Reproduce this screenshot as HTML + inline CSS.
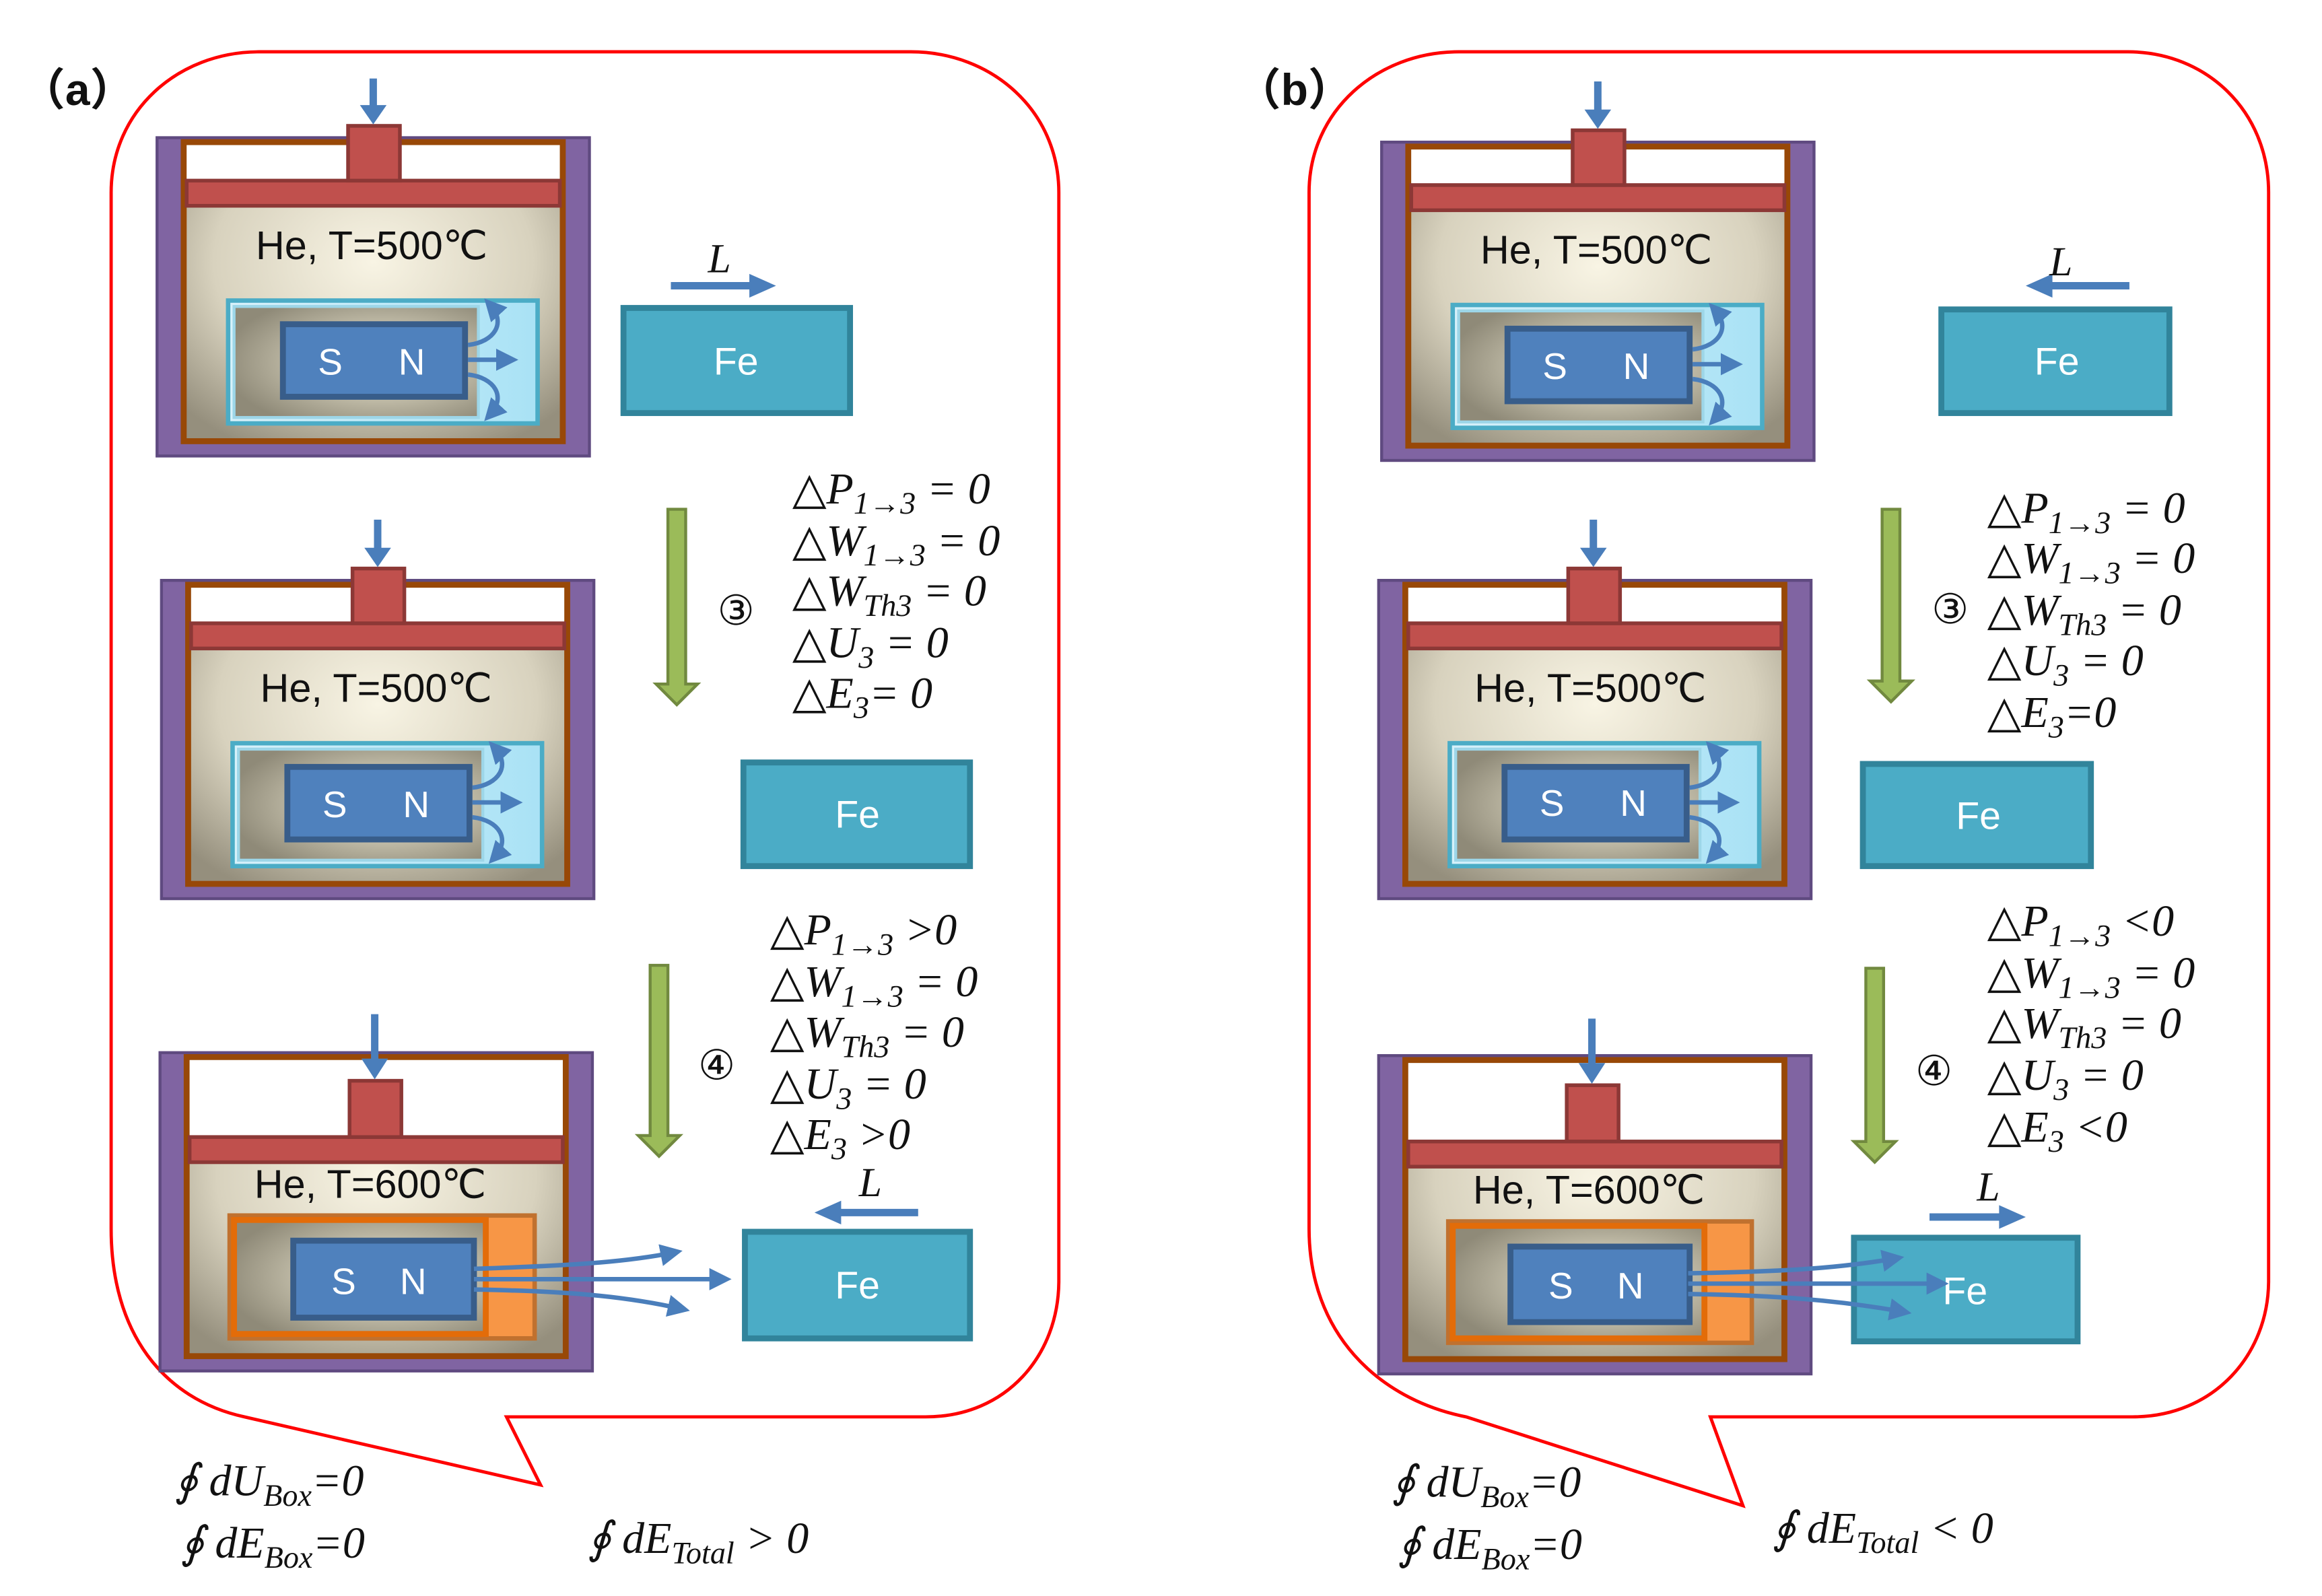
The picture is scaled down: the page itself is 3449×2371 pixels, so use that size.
<!DOCTYPE html>
<html><head><meta charset="utf-8">
<style>
html,body{margin:0;padding:0;background:#fff;}
svg{display:block;}
.he{font-family:"Liberation Sans","DejaVu Sans",sans-serif;font-size:27px;fill:#111;}
.sn{font-family:"Liberation Sans",sans-serif;font-size:25px;fill:#fff;}
.fe{font-family:"Liberation Sans",sans-serif;font-size:26px;fill:#fff;}
.eq{font-family:"Liberation Serif","DejaVu Serif",serif;font-style:italic;font-size:30px;fill:#111;}
.sub{font-size:21px;}
.lab{font-family:"Liberation Sans","Noto Sans CJK SC",sans-serif;font-size:30px;font-weight:bold;fill:#111;}
.L{font-family:"Liberation Serif",serif;font-style:italic;font-size:28px;fill:#111;}
.circ{font-family:"Liberation Serif","DejaVu Serif",serif;font-size:28px;fill:#111;}
</style></head>
<body>
<svg width="3449" height="2371" viewBox="0 0 1568 1078" xmlns="http://www.w3.org/2000/svg">
<defs>
<radialGradient id="gas" cx="50%" cy="40%" r="70%">
<stop offset="0" stop-color="#f8f4e4"/><stop offset="0.6" stop-color="#d8d2be"/><stop offset="1" stop-color="#958f7d"/>
</radialGradient>
<radialGradient id="inn" cx="60%" cy="50%" r="65%">
<stop offset="0" stop-color="#f5f0da"/><stop offset="1" stop-color="#8f8a78"/>
</radialGradient>
<linearGradient id="lb" x1="0" x2="1"><stop offset="0" stop-color="#d7f1fa"/><stop offset="1" stop-color="#a9e2f5"/></linearGradient>
<marker id="ah" markerWidth="5" markerHeight="5" refX="3" refY="2.5" orient="auto" markerUnits="strokeWidth"><path d="M0,0 L5,2.5 L0,5 z" fill="#4a7ebb"/></marker>
<g id="shell">
<rect x="0" y="0" width="292" height="215" fill="#8064a2" stroke="#5f4a80" stroke-width="2"/>
<rect x="18" y="3" width="256" height="202" fill="url(#gas)" stroke="#984807" stroke-width="4"/>
</g>
<g id="coldHouse">
<rect x="48" y="110" width="209" height="83" fill="url(#lb)" stroke="#4bacc6" stroke-width="3"/>
<rect x="52" y="114" width="165" height="75" fill="url(#inn)" stroke="#9dd6e8" stroke-width="2"/>
<rect x="85" y="126" width="123" height="49" fill="#4f81bd" stroke="#385d8a" stroke-width="4"/>
<path d="M210,140 C228,138 236,125 225,113" fill="none" stroke="#4a7ebb" stroke-width="3" marker-end="url(#ah)"/>
<path d="M210,150 L238,150" fill="none" stroke="#4a7ebb" stroke-width="3" marker-end="url(#ah)"/>
<path d="M210,160 C228,162 236,175 225,187" fill="none" stroke="#4a7ebb" stroke-width="3" marker-end="url(#ah)"/>
</g>
</defs>

<!-- ============ PANEL A ============ -->
<text x="14" y="71" class="lab">（a）</text>
<path d="M165,957 C110,945 75,900 75,830 L75,130 C75,75 120,35 175,35 L615,35 C670,35 715,75 715,130 L715,865 C715,915 680,957 625,957 L342,957 L365,1003 Z" fill="none" stroke="#ff0000" stroke-width="2.2"/>

<g transform="translate(106,93)">
<use href="#shell"/>
<rect x="20" y="5" width="252" height="25" fill="#fff"/>
<rect x="20" y="29" width="252" height="17" fill="#c0504d" stroke="#8c3836" stroke-width="2.5"/>
<rect x="129" y="-8" width="35" height="37" fill="#c0504d" stroke="#8c3836" stroke-width="2.5"/>
<line x1="146" y1="-40" x2="146" y2="-20" stroke="#4a7ebb" stroke-width="5"/><path d="M137,-22 L155,-22 L146,-9 z" fill="#4a7ebb"/>
<use href="#coldHouse"/>
<text x="145" y="82" class="he" text-anchor="middle">He, T=500℃</text>
<text x="117" y="160" class="sn" text-anchor="middle">S</text><text x="172" y="160" class="sn" text-anchor="middle">N</text>
</g>
<rect x="421" y="208" width="153" height="71" fill="#4bacc6" stroke="#31849b" stroke-width="4"/>
<text x="497" y="253" class="fe" text-anchor="middle">Fe</text>
<line x1="453" y1="193" x2="508" y2="193" stroke="#4a7ebb" stroke-width="5"/><path d="M506,185 L524,193 L506,201 z" fill="#4a7ebb"/>
<text x="478" y="184" class="L">L</text>

<g transform="translate(109,392)">
<use href="#shell"/>
<rect x="20" y="5" width="252" height="25" fill="#fff"/>
<rect x="20" y="29" width="252" height="17" fill="#c0504d" stroke="#8c3836" stroke-width="2.5"/>
<rect x="129" y="-8" width="35" height="37" fill="#c0504d" stroke="#8c3836" stroke-width="2.5"/>
<line x1="146" y1="-41" x2="146" y2="-20" stroke="#4a7ebb" stroke-width="5"/><path d="M137,-22 L155,-22 L146,-9 z" fill="#4a7ebb"/>
<use href="#coldHouse"/>
<text x="145" y="82" class="he" text-anchor="middle">He, T=500℃</text>
<text x="117" y="160" class="sn" text-anchor="middle">S</text><text x="172" y="160" class="sn" text-anchor="middle">N</text>
</g>
<rect x="502" y="515" width="153" height="70" fill="#4bacc6" stroke="#31849b" stroke-width="4"/>
<text x="579" y="559" class="fe" text-anchor="middle">Fe</text>

<path d="M451,344 L463,344 L463,462 L471,462 L457,476 L443,462 L451,462 Z" fill="#9bbb59" stroke="#71893f" stroke-width="2"/>
<text x="497" y="422" class="circ" text-anchor="middle">③</text>
<text class="eq" x="535" y="340">△P<tspan class="sub" dy="7">1→3</tspan><tspan dy="-7"> = 0</tspan></text>
<text class="eq" x="535" y="375">△W<tspan class="sub" dy="7">1→3</tspan><tspan dy="-7"> = 0</tspan></text>
<text class="eq" x="535" y="409">△W<tspan class="sub" dy="7">Th3</tspan><tspan dy="-7"> = 0</tspan></text>
<text class="eq" x="535" y="444">△U<tspan class="sub" dy="7">3</tspan><tspan dy="-7"> = 0</tspan></text>
<text class="eq" x="535" y="478">△E<tspan class="sub" dy="7">3</tspan><tspan dy="-7">= 0</tspan></text>

<g transform="translate(108,711)">
<use href="#shell"/>
<rect x="20" y="5" width="252" height="52" fill="#fff"/>
<rect x="20" y="57" width="252" height="17" fill="#c0504d" stroke="#8c3836" stroke-width="2.5"/>
<rect x="128" y="19" width="35" height="38" fill="#c0504d" stroke="#8c3836" stroke-width="2.5"/>
<line x1="145" y1="-26" x2="145" y2="6" stroke="#4a7ebb" stroke-width="5"/><path d="M136,4 L154,4 L145,18 z" fill="#4a7ebb"/>
<text x="142" y="98" class="he" text-anchor="middle">He, T=600℃</text>
<rect x="47" y="110" width="206" height="83" fill="#f79646" stroke="#c0712f" stroke-width="3"/>
<rect x="50" y="113" width="170" height="77" fill="url(#inn)" stroke="#e36c09" stroke-width="4"/>
<rect x="90" y="127" width="122" height="52" fill="#4f81bd" stroke="#385d8a" stroke-width="4"/>
<text x="124" y="163" class="sn" text-anchor="middle">S</text><text x="171" y="163" class="sn" text-anchor="middle">N</text>
</g>
<path d="M320,857 C380,855 420,853 455,846" fill="none" stroke="#4a7ebb" stroke-width="3" marker-end="url(#ah)"/>
<path d="M320,864 L488,864" fill="none" stroke="#4a7ebb" stroke-width="3" marker-end="url(#ah)"/>
<path d="M320,871 C380,872 420,875 460,884" fill="none" stroke="#4a7ebb" stroke-width="3" marker-end="url(#ah)"/>
<rect x="503" y="832" width="152" height="72" fill="#4bacc6" stroke="#31849b" stroke-width="4"/>
<text x="579" y="877" class="fe" text-anchor="middle">Fe</text>
<line x1="566" y1="819" x2="620" y2="819" stroke="#4a7ebb" stroke-width="5"/><path d="M568,811 L550,819 L568,827 z" fill="#4a7ebb"/>
<text x="580" y="808" class="L">L</text>

<path d="M439,652 L451,652 L451,767 L459,767 L445,781 L431,767 L439,767 Z" fill="#9bbb59" stroke="#71893f" stroke-width="2"/>
<text x="484" y="729" class="circ" text-anchor="middle">④</text>
<text class="eq" x="520" y="638">△P<tspan class="sub" dy="7">1→3</tspan><tspan dy="-7">  &gt;0</tspan></text>
<text class="eq" x="520" y="673">△W<tspan class="sub" dy="7">1→3</tspan><tspan dy="-7"> = 0</tspan></text>
<text class="eq" x="520" y="707">△W<tspan class="sub" dy="7">Th3</tspan><tspan dy="-7"> = 0</tspan></text>
<text class="eq" x="520" y="742">△U<tspan class="sub" dy="7">3</tspan><tspan dy="-7"> = 0</tspan></text>
<text class="eq" x="520" y="776">△E<tspan class="sub" dy="7">3</tspan><tspan dy="-7"> &gt;0</tspan></text>

<text class="eq" x="118" y="1010">∮ dU<tspan class="sub" dy="7">Box</tspan><tspan dy="-7">=0</tspan></text>
<text class="eq" x="122" y="1052">∮ dE<tspan class="sub" dy="7">Box</tspan><tspan dy="-7">=0</tspan></text>
<text class="eq" x="397" y="1049">∮ dE<tspan class="sub" dy="7">Total</tspan><tspan dy="-7"> &gt; 0</tspan></text>

<!-- ============ PANEL B ============ -->
<text x="835" y="71" class="lab">（b）</text>
<path d="M990,957 C930,945 884,900 884,830 L884,130 C884,75 930,35 985,35 L1437,35 C1490,35 1532,75 1532,130 L1532,865 C1532,915 1495,957 1440,957 L1155,957 L1177,1017 Z" fill="none" stroke="#ff0000" stroke-width="2.2"/>

<g transform="translate(933,96)">
<use href="#shell"/>
<rect x="20" y="5" width="252" height="25" fill="#fff"/>
<rect x="20" y="29" width="252" height="17" fill="#c0504d" stroke="#8c3836" stroke-width="2.5"/>
<rect x="129" y="-8" width="35" height="37" fill="#c0504d" stroke="#8c3836" stroke-width="2.5"/>
<line x1="146" y1="-41" x2="146" y2="-20" stroke="#4a7ebb" stroke-width="5"/><path d="M137,-22 L155,-22 L146,-9 z" fill="#4a7ebb"/>
<use href="#coldHouse"/>
<text x="145" y="82" class="he" text-anchor="middle">He, T=500℃</text>
<text x="117" y="160" class="sn" text-anchor="middle">S</text><text x="172" y="160" class="sn" text-anchor="middle">N</text>
</g>
<rect x="1311" y="209" width="154" height="70" fill="#4bacc6" stroke="#31849b" stroke-width="4"/>
<text x="1389" y="253" class="fe" text-anchor="middle">Fe</text>
<line x1="1384" y1="193" x2="1438" y2="193" stroke="#4a7ebb" stroke-width="5"/><path d="M1386,185 L1368,193 L1386,201 z" fill="#4a7ebb"/>
<text x="1384" y="186" class="L">L</text>

<g transform="translate(931,392)">
<use href="#shell"/>
<rect x="20" y="5" width="252" height="25" fill="#fff"/>
<rect x="20" y="29" width="252" height="17" fill="#c0504d" stroke="#8c3836" stroke-width="2.5"/>
<rect x="128" y="-8" width="35" height="37" fill="#c0504d" stroke="#8c3836" stroke-width="2.5"/>
<line x1="145" y1="-41" x2="145" y2="-20" stroke="#4a7ebb" stroke-width="5"/><path d="M136,-22 L154,-22 L145,-9 z" fill="#4a7ebb"/>
<use href="#coldHouse"/>
<text x="143" y="82" class="he" text-anchor="middle">He, T=500℃</text>
<text x="117" y="159" class="sn" text-anchor="middle">S</text><text x="172" y="159" class="sn" text-anchor="middle">N</text>
</g>
<rect x="1258" y="516" width="154" height="69" fill="#4bacc6" stroke="#31849b" stroke-width="4"/>
<text x="1336" y="560" class="fe" text-anchor="middle">Fe</text>

<path d="M1271,344 L1283,344 L1283,460 L1291,460 L1277,474 L1263,460 L1271,460 Z" fill="#9bbb59" stroke="#71893f" stroke-width="2"/>
<text x="1317" y="421" class="circ" text-anchor="middle">③</text>
<text class="eq" x="1342" y="353">△P<tspan class="sub" dy="7">1→3</tspan><tspan dy="-7"> = 0</tspan></text>
<text class="eq" x="1342" y="387">△W<tspan class="sub" dy="7">1→3</tspan><tspan dy="-7"> = 0</tspan></text>
<text class="eq" x="1342" y="422">△W<tspan class="sub" dy="7">Th3</tspan><tspan dy="-7"> = 0</tspan></text>
<text class="eq" x="1342" y="456">△U<tspan class="sub" dy="7">3</tspan><tspan dy="-7"> = 0</tspan></text>
<text class="eq" x="1342" y="491">△E<tspan class="sub" dy="7">3</tspan><tspan dy="-7">=0</tspan></text>

<g transform="translate(931,713)">
<use href="#shell"/>
<rect x="20" y="5" width="252" height="53" fill="#fff"/>
<rect x="20" y="58" width="252" height="17" fill="#c0504d" stroke="#8c3836" stroke-width="2.5"/>
<rect x="127" y="20" width="35" height="38" fill="#c0504d" stroke="#8c3836" stroke-width="2.5"/>
<line x1="144" y1="-25" x2="144" y2="7" stroke="#4a7ebb" stroke-width="5"/><path d="M135,5 L153,5 L144,19 z" fill="#4a7ebb"/>
<text x="142" y="100" class="he" text-anchor="middle">He, T=600℃</text>
<rect x="47" y="112" width="205" height="82" fill="#f79646" stroke="#c0712f" stroke-width="3"/>
<rect x="50" y="115" width="170" height="76" fill="url(#inn)" stroke="#e36c09" stroke-width="4"/>
<rect x="89" y="129" width="121" height="51" fill="#4f81bd" stroke="#385d8a" stroke-width="4"/>
<text x="123" y="164" class="sn" text-anchor="middle">S</text><text x="170" y="164" class="sn" text-anchor="middle">N</text>
</g>
<rect x="1252" y="836" width="151" height="70" fill="#4bacc6" stroke="#31849b" stroke-width="4"/>
<text x="1327" y="881" class="fe" text-anchor="middle">Fe</text>
<path d="M1140,860 C1200,859 1240,857 1280,850" fill="none" stroke="#4a7ebb" stroke-width="3" marker-end="url(#ah)"/>
<path d="M1140,867 L1310,867" fill="none" stroke="#4a7ebb" stroke-width="3" marker-end="url(#ah)"/>
<path d="M1140,874 C1200,875 1240,878 1285,886" fill="none" stroke="#4a7ebb" stroke-width="3" marker-end="url(#ah)"/>
<line x1="1303" y1="822" x2="1352" y2="822" stroke="#4a7ebb" stroke-width="5"/><path d="M1350,814 L1368,822 L1350,830 z" fill="#4a7ebb"/>
<text x="1335" y="811" class="L">L</text>

<path d="M1260,654 L1272,654 L1272,771 L1280,771 L1266,785 L1252,771 L1260,771 Z" fill="#9bbb59" stroke="#71893f" stroke-width="2"/>
<text x="1306" y="733" class="circ" text-anchor="middle">④</text>
<text class="eq" x="1342" y="632">△P<tspan class="sub" dy="7">1→3</tspan><tspan dy="-7">  &lt;0</tspan></text>
<text class="eq" x="1342" y="667">△W<tspan class="sub" dy="7">1→3</tspan><tspan dy="-7"> = 0</tspan></text>
<text class="eq" x="1342" y="701">△W<tspan class="sub" dy="7">Th3</tspan><tspan dy="-7"> = 0</tspan></text>
<text class="eq" x="1342" y="736">△U<tspan class="sub" dy="7">3</tspan><tspan dy="-7"> = 0</tspan></text>
<text class="eq" x="1342" y="771">△E<tspan class="sub" dy="7">3</tspan><tspan dy="-7"> &lt;0</tspan></text>

<text class="eq" x="940" y="1011">∮ dU<tspan class="sub" dy="7">Box</tspan><tspan dy="-7">=0</tspan></text>
<text class="eq" x="944" y="1053">∮ dE<tspan class="sub" dy="7">Box</tspan><tspan dy="-7">=0</tspan></text>
<text class="eq" x="1197" y="1042">∮ dE<tspan class="sub" dy="7">Total</tspan><tspan dy="-7"> &lt; 0</tspan></text>
</svg>
</body></html>
